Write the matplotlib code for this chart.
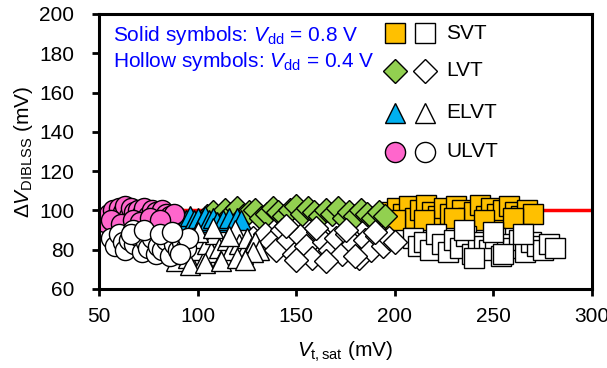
import matplotlib
matplotlib.use("Agg")
import matplotlib.pyplot as plt

plt.rcParams['font.family'] = ['Liberation Sans', 'DejaVu Sans']
plt.rcParams['mathtext.fontset'] = 'custom'
plt.rcParams['mathtext.rm'] = 'Liberation Sans'
plt.rcParams['mathtext.it'] = 'Liberation Sans:italic'
plt.rcParams['mathtext.bf'] = 'Liberation Sans:bold'

# ---- data: Vt,sat (mV) vs DIBL (mV) ----
svt_solid_x = [195, 198, 201, 204, 207, 210, 213, 216, 219, 222, 225, 228, 231, 234, 237, 240,
               243, 246, 249, 252, 255, 258, 261, 264, 267, 270, 200, 215, 230, 245, 260]
svt_solid_y = [97, 99, 101, 98, 102, 96, 100, 103, 99, 97, 101, 98, 102, 100, 96, 99,
               103, 97, 101, 98, 100, 102, 99, 97, 100, 98, 95, 95, 96, 95, 96]
svt_hollow_x = [209, 212, 215, 218, 221, 224, 227, 230, 233, 236, 239, 242, 245, 248, 251,
                254, 257, 260, 263, 266, 269, 272, 275, 278, 281, 235, 250, 265, 240, 255]
svt_hollow_y = [86, 82, 84, 80, 88, 83, 79, 85, 81, 87, 78, 84, 82, 80, 86,
                77, 83, 81, 85, 79, 84, 82, 80, 83, 81, 90, 89, 88, 76, 78]

lvt_solid_x = [105, 108, 111, 114, 117, 120, 123, 126, 129, 132, 135, 138, 141, 144, 147, 150,
               153, 156, 159, 162, 165, 168, 171, 174, 177, 180, 183, 186, 189, 192, 195]
lvt_solid_y = [97, 99, 96, 100, 98, 101, 97, 99, 100, 96, 98, 101, 99, 97, 100, 102,
               98, 101, 99, 97, 100, 98, 101, 96, 99, 97, 100, 98, 96, 99, 97]
lvt_hollow_x = [128, 131, 134, 137, 140, 143, 146, 149, 152, 155, 158, 161, 164, 167, 170, 173,
                176, 179, 182, 185, 188, 191, 194, 197, 200, 145, 160, 175, 190, 150, 165, 180]
lvt_hollow_y = [86, 82, 88, 84, 80, 90, 85, 78, 87, 82, 76, 89, 84, 80, 86, 78,
                88, 83, 76, 85, 80, 87, 82, 86, 84, 92, 91, 90, 89, 75, 74, 77]

elvt_solid_x = [92, 94, 96, 98, 100, 102, 104, 106, 108, 110, 113, 116, 120, 122]
elvt_solid_y = [96, 95, 97, 95, 96, 94, 97, 95, 96, 94, 95, 96, 96, 95]
elvt_hollow_x = [89, 91, 93, 95, 97, 99, 101, 103, 105, 107, 109, 111, 113, 115, 117, 119,
                 121, 123, 125, 127, 129, 131, 96, 104, 112, 120, 128, 100, 108, 116, 124]
elvt_hollow_y = [74, 78, 82, 76, 84, 80, 86, 75, 83, 79, 88, 81, 77, 85, 80, 90,
                 83, 78, 86, 81, 84, 80, 72, 73, 74, 76, 79, 89, 91, 87, 75]

ulvt_solid_x = [53, 55, 57, 58, 60, 62, 63, 65, 66, 68, 70, 72, 73, 75, 77, 79, 80, 82,
                84, 86, 88, 56, 61, 67, 71, 76, 81]
ulvt_solid_y = [94, 98, 100, 96, 101, 99, 102, 97, 101, 99, 100, 98, 101, 97, 100, 99, 96, 100,
                98, 97, 98, 95, 93, 95, 94, 96, 95]
ulvt_hollow_x = [56, 58, 60, 62, 63, 65, 67, 68, 70, 72, 74, 75, 77, 79, 80, 82, 84, 86,
                 88, 90, 92, 94, 95, 66, 73, 81, 87, 91]
ulvt_hollow_y = [86, 82, 88, 84, 80, 85, 90, 83, 87, 79, 84, 81, 86, 78, 82, 80, 85, 77,
                 83, 80, 84, 81, 86, 88, 90, 88, 89, 78]

flavors = ['SVT', 'LVT', 'ELVT', 'ULVT']
colors = ['#FFC000', '#92D050', '#00B0F0', '#FF66CC']
markers = ['s', 'D', '^', 'o']
sizes = [14.5, 12.5, 15.0, 14.5]

solid = [(svt_solid_x, svt_solid_y), (lvt_solid_x, lvt_solid_y),
         (elvt_solid_x, elvt_solid_y), (ulvt_solid_x, ulvt_solid_y)]
hollow = [(svt_hollow_x, svt_hollow_y), (lvt_hollow_x, lvt_hollow_y),
          (elvt_hollow_x, elvt_hollow_y), (ulvt_hollow_x, ulvt_hollow_y)]

fig = plt.figure(figsize=(6.07, 3.68), dpi=100)
ax = fig.add_axes([0.1631, 0.2147, 0.8122, 0.7473])

ax.axhline(100, color='red', lw=2.5, zorder=1)

for (x, y), c, m, s in zip(solid, colors, markers, sizes):
    ax.plot(x, y, linestyle='none', marker=m, ms=s, mfc=c, mec='black', mew=1.0, zorder=2)
for (x, y), m, s in zip(hollow, markers, sizes):
    ax.plot(x, y, linestyle='none', marker=m, ms=s, mfc='white', mec='black', mew=1.0, zorder=3)

# key of symbols in the upper right
key_y = [190.3, 171.0, 149.8, 129.8]
for ky, name, c, m, s in zip(key_y, flavors, colors, markers, sizes):
    ax.plot([200.1], [ky], linestyle='none', marker=m, ms=s, mfc=c, mec='black', mew=1.0,
            zorder=4, clip_on=False)
    ax.plot([215.3], [ky], linestyle='none', marker=m, ms=s, mfc='white', mec='black', mew=1.0,
            zorder=4, clip_on=False)
    ax.text(226.0, ky, name, fontsize=15, va='center', ha='left', zorder=5)

ax.text(57.0, 188.8, r'Solid symbols: $\mathit{V}_{\mathrm{dd}}$ = 0.8 V', color='blue',
        fontsize=15, va='center', ha='left')
ax.text(57.0, 175.6, r'Hollow symbols: $\mathit{V}_{\mathrm{dd}}$ = 0.4 V', color='blue',
        fontsize=15, va='center', ha='left')

ax.set_xlim(50, 300)
ax.set_ylim(60, 200)
ax.set_xticks([50, 100, 150, 200, 250, 300])
ax.set_yticks([60, 80, 100, 120, 140, 160, 180, 200])
ax.tick_params(axis='both', direction='out', length=5, width=2, labelsize=15)
ax.tick_params(axis='x', pad=8)
ax.tick_params(axis='y', pad=13)
for sp in ax.spines.values():
    sp.set_linewidth(2.2)

ax.set_xlabel(r'$\mathit{V}_{\mathrm{t,sat}}$ (mV)', fontsize=15, labelpad=10)
ax.set_ylabel(r'$\Delta\mathit{V}_{\mathrm{DIBLSS}}$ (mV)', fontsize=15, labelpad=3)

fig.savefig('out.png', dpi=100)
